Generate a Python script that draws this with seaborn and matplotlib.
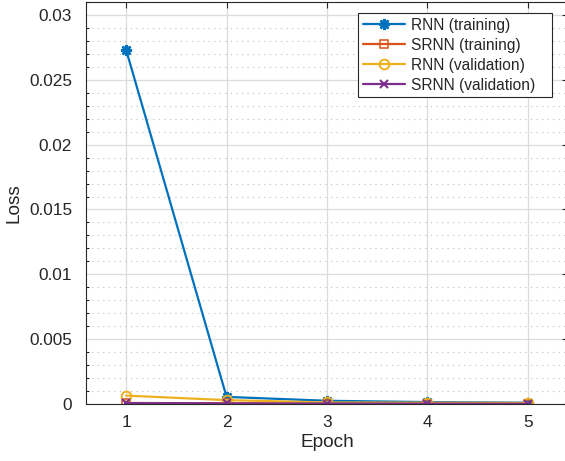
import matplotlib
matplotlib.use("Agg")
import matplotlib.pyplot as plt
import seaborn as sns
import pandas as pd
from matplotlib.ticker import MultipleLocator

epochs = [1, 2, 3, 4, 5]
rnn_train = [0.0273, 0.00055, 0.00025, 0.00015, 0.0001]
srnn_train = [0.00008, 0.00006, 0.00004, 0.00003, 0.00003]
rnn_val = [0.00065, 0.0003, 0.00012, 0.0001, 0.00008]
srnn_val = [0.00007, 0.00005, 0.00004, 0.00003, 0.00002]
series_names = ["RNN (training)", "SRNN (training)", "RNN (validation)", "SRNN (validation)"]
y_ticks = [0, 0.005, 0.01, 0.015, 0.02, 0.025, 0.03]
y_tick_labels = ["0", "0.005", "0.01", "0.015", "0.02", "0.025", "0.03"]

sns.set_theme(style="white")
plt.rcParams['font.family'] = ['Liberation Sans', 'DejaVu Sans']

fig = plt.figure(figsize=(5.65, 4.61), dpi=100)
ax = fig.add_axes([0.1522, 0.1236, 0.853, 0.8721])

colors = ["#0072BD", "#D95319", "#EDB120", "#7E2F8E"]
markers = [(8, 2, 0), "s", "o", "x"]
msizes = [8, 6, 7, 6]
mews = [1.8, 1.1, 1.4, 1.5]
data = [rnn_train, srnn_train, rnn_val, srnn_val]

for name, vals, c, m, ms, mew in zip(series_names, data, colors, markers, msizes, mews):
    df = pd.DataFrame({"Epoch": epochs, "Loss": vals})
    sns.lineplot(data=df, x="Epoch", y="Loss", ax=ax, color=c, marker=m,
                 markersize=ms, linewidth=1.6, label=name,
                 markerfacecolor="none" if m in ("s", "o") else c,
                 markeredgecolor=c, markeredgewidth=mew)

ax.set_xlim(0.6, 5.4)
ax.set_ylim(0, 0.031)
ax.set_xticks(epochs)
ax.set_yticks(y_ticks)
ax.set_yticklabels(y_tick_labels)
ax.yaxis.set_minor_locator(MultipleLocator(0.001))

ax.grid(True, which="major", color="#dcdcdc", linewidth=0.9, linestyle="-")
ax.grid(True, which="minor", axis="y", color="#bdbdbd", linewidth=0.8, linestyle=(0, (1, 4)))
ax.set_axisbelow(True)

for s in ax.spines.values():
    s.set_color("#262626")
    s.set_linewidth(0.8)
    s.set_visible(True)

ax.tick_params(axis="both", which="both", direction="in", top=True, right=True,
               labelsize=12.4, colors="#262626", length=4, width=0.8)
ax.tick_params(axis="y", which="minor", length=2.5, left=True, right=True)
ax.tick_params(axis="x", which="major", pad=8)
ax.tick_params(axis="y", which="major", pad=10)

ax.set_xlabel("Epoch", fontsize=13.7, color="#262626", labelpad=3)
ax.set_ylabel("Loss", fontsize=13.7, color="#262626", labelpad=5)

leg = ax.legend(loc="upper left", bbox_to_anchor=(0.5643, 0.0, 0.4025, 0.9726),
                mode="expand", fontsize=11.2,
                frameon=True, fancybox=False, edgecolor="#262626", framealpha=1,
                borderpad=0.3, labelspacing=0.32, handlelength=2.7, handletextpad=0.4,
                borderaxespad=0)
leg.get_frame().set_linewidth(0.8)

fig.savefig("out.png", dpi=100)
